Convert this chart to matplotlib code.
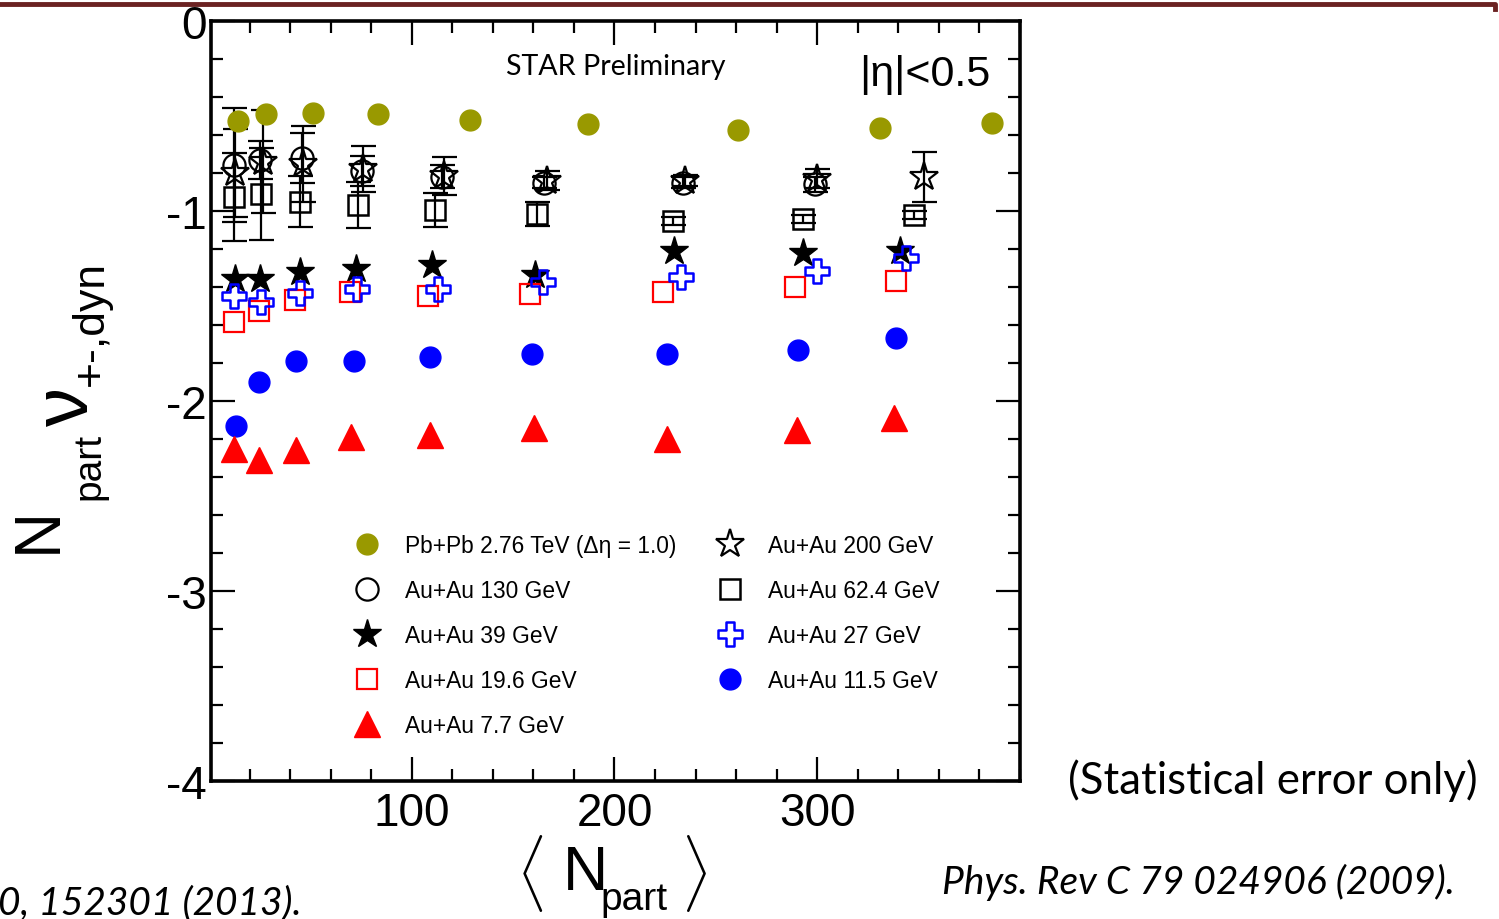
import matplotlib
matplotlib.use('Agg')
import matplotlib.pyplot as plt
from matplotlib.path import Path
from matplotlib.ticker import MultipleLocator, FixedLocator
import numpy as np

# ---------------- data ----------------
x_pbpb = [14.3, 28.2, 51.4, 83.6, 128.6, 187.0, 261.0, 331.0, 386.0]
y_pbpb = [-0.526, -0.49, -0.484, -0.49, -0.52, -0.54, -0.574, -0.563, -0.537]

x_200 = [12.9, 26.7, 46.5, 76.0, 116.0, 166.7, 235.0, 300.0, 352.6]
y_200 = [-0.80, -0.74, -0.75, -0.78, -0.815, -0.84, -0.84, -0.83, -0.82]
e_200 = [0.23, 0.27, 0.20, 0.12, 0.10, 0.05, 0.03, 0.05, 0.13]

x_130 = [12.4, 25.2, 46.0, 75.5, 115.0, 165.0, 234.0, 299.0]
y_130 = [-0.76, -0.73, -0.72, -0.79, -0.82, -0.85, -0.85, -0.86]
e_130 = [0.30, 0.10, 0.13, 0.08, 0.06, 0.03, 0.03, 0.04]

x_624 = [12.4, 25.7, 45.0, 73.7, 111.3, 161.7, 229.0, 292.8, 347.7]
y_624 = [-0.926, -0.91, -0.95, -0.968, -0.995, -1.016, -1.053, -1.042, -1.021]
e_624 = [0.23, 0.24, 0.135, 0.12, 0.09, 0.065, 0.02, 0.02, 0.02]

x_39 = [12.9, 25.2, 45.0, 72.7, 110.0, 161.0, 229.5, 293.0, 341.0]
y_39 = [-1.358, -1.358, -1.321, -1.305, -1.284, -1.337, -1.21, -1.221, -1.21]

x_27 = [12.4, 25.7, 45.0, 73.2, 113.0, 164.5, 233.0, 300.0, 344.0]
y_27 = [-1.447, -1.479, -1.432, -1.41, -1.41, -1.374, -1.347, -1.316, -1.247]

x_196 = [12.4, 24.7, 42.5, 69.7, 107.8, 158.3, 224.0, 289.0, 339.0]
y_196 = [-1.584, -1.526, -1.468, -1.426, -1.447, -1.437, -1.426, -1.40, -1.368]

x_115 = [13.4, 24.7, 43.0, 71.7, 108.8, 159.2, 226.0, 290.5, 339.0]
y_115 = [-2.13, -1.90, -1.79, -1.79, -1.77, -1.75, -1.75, -1.73, -1.67]

x_77 = [12.4, 24.7, 43.0, 70.2, 108.8, 160.2, 226.0, 290.0, 338.0]
y_77 = [-2.25, -2.31, -2.26, -2.19, -2.18, -2.14, -2.20, -2.15, -2.09]

labels = ["Pb+Pb 2.76 TeV (\u0394\u03b7 = 1.0)", "Au+Au 130 GeV", "Au+Au 39 GeV",
          "Au+Au 19.6 GeV", "Au+Au 7.7 GeV", "Au+Au 200 GeV", "Au+Au 62.4 GeV",
          "Au+Au 27 GeV", "Au+Au 11.5 GeV"]
x_ticks = [100, 200, 300]
y_ticks = [0, -1, -2, -3, -4]

# ---------------- style ----------------
plt.rcParams['font.family'] = ['Liberation Sans', 'DejaVu Sans']
plt.rcParams['axes.unicode_minus'] = False
plt.rcParams['mathtext.fontset'] = 'custom'
plt.rcParams['mathtext.rm'] = 'Liberation Sans'
plt.rcParams['mathtext.it'] = 'Liberation Sans'
plt.rcParams['mathtext.bf'] = 'Liberation Sans:bold'

W, H = 1499, 920
fig = plt.figure(figsize=(W / 100, H / 100), dpi=100)
ax = fig.add_axes([211 / W, 1 - 782 / H, (1020 - 211) / W, 760 / H])


def fx(px):
    return px / W


def fy(py):
    return 1 - py / H


a = 0.38
cross = Path([(-a, 1), (a, 1), (a, a), (1, a), (1, -a), (a, -a), (a, -1), (-a, -1),
              (-a, -a), (-1, -a), (-1, a), (-a, a), (-a, 1)], closed=True)

olive = '#999900'
ebkw = dict(fmt='none', ecolor='black', elinewidth=1.6, capsize=9, capthick=1.6)

ax.errorbar(x_624, y_624, yerr=e_624, zorder=2, **ebkw)
ax.errorbar(x_130, y_130, yerr=e_130, zorder=2, **ebkw)
ax.errorbar(x_200, y_200, yerr=e_200, zorder=2, **ebkw)

h_pb, = ax.plot(x_pbpb, y_pbpb, ls='none', marker='o', ms=15, color=olive, mec=olive, zorder=6)
h_130, = ax.plot(x_130, y_130, ls='none', marker='o', ms=16, mfc='none', mec='black', mew=1.6, zorder=3)
h_200, = ax.plot(x_200, y_200, ls='none', marker='*', ms=21, mfc='none', mec='black', mew=1.6, zorder=3)
h_624, = ax.plot(x_624, y_624, ls='none', marker='s', ms=14, mfc='none', mec='black', mew=1.8, zorder=3)
h_39, = ax.plot(x_39, y_39, ls='none', marker='*', ms=21, color='black', zorder=4)
h_27, = ax.plot(x_27, y_27, ls='none', marker=cross, ms=17, mfc='none', mec='#0000ff', mew=1.8, zorder=5)
h_196, = ax.plot(x_196, y_196, ls='none', marker='s', ms=14, mfc='none', mec='#ff0000', mew=1.6, zorder=4)
h_115, = ax.plot(x_115, y_115, ls='none', marker='o', ms=15, color='#0000ff', zorder=4)
h_77, = ax.plot(x_77, y_77, ls='none', marker='^', ms=19, color='#ff0000', zorder=4)

handles = [h_pb, h_130, h_39, h_196, h_77, h_200, h_624, h_27, h_115]
leg = ax.legend(handles, labels, ncol=2, frameon=False, fontsize=16.4, numpoints=1,
                handlelength=1.0, handletextpad=1.15, labelspacing=0.965, columnspacing=1.87,
                loc='upper left', bbox_to_anchor=(fx(356), fy(535)),
                bbox_transform=fig.transFigure, borderaxespad=0, borderpad=0)

ax.set_xlim(1, 400)
ax.set_ylim(-4, 0)
ax.xaxis.set_major_locator(FixedLocator(x_ticks))
ax.xaxis.set_minor_locator(MultipleLocator(20))
ax.yaxis.set_major_locator(FixedLocator(y_ticks))
ax.yaxis.set_minor_locator(MultipleLocator(0.2))
ax.set_yticklabels([str(t) for t in y_ticks])
ax.tick_params(which='both', direction='in', top=True, right=True, width=1.6, labelsize=33)
ax.tick_params(which='major', length=17)
ax.tick_params(which='minor', length=8.5)
ax.tick_params(axis='x', pad=7)
ax.tick_params(axis='y', pad=3)
for s in ax.spines.values():
    s.set_linewidth(2.6)

# ---- y-axis title, composed ROOT-like: N_part nu_{+-,dyn}
yt = dict(rotation=90, rotation_mode='anchor', ha='left', va='baseline')
fig.text(fx(56), fy(553), 'N', fontsize=46, **yt)
fig.text(fx(99), fy(500), 'part', fontsize=28, **yt)
fig.text(fx(88), fy(426), '\u03bd', fontsize=56, **yt)
fig.text(fx(103), fy(386), '+-,dyn', fontsize=32, **yt)

# ---- x-axis title  < N_part >
fig.text(fx(530), fy(874), r'$\langle$', fontsize=46, ha='center', va='center')
fig.text(fx(563), fy(890), 'N', fontsize=45, ha='left', va='baseline')
fig.text(fx(600), fy(910), 'part', fontsize=28, ha='left', va='baseline')
fig.text(fx(694), fy(874), r'$\rangle$', fontsize=46, ha='center', va='center')

# ---- other texts
fig.text(fx(616), fy(67), 'STAR Preliminary', fontsize=20.6, family='Lato',
         ha='center', va='center')
fig.text(fx(925), fy(75), '|\u03b7|<0.5', fontsize=31, ha='center', va='center')
fig.text(fx(1068), fy(781), '(Statistical error only)', fontsize=31.5, family='Lato',
         ha='left', va='center')
fig.text(fx(942), fy(882), 'Phys. Rev C 79 024906 (2009).', fontsize=28, family='Lato',
         style='italic', ha='left', va='center')
fig.text(fx(-2), fy(903), '0, 152301 (2013).', fontsize=28, family='Lato',
         style='italic', ha='left', va='center')

# top decorative line
fig.add_artist(plt.Line2D([0, fx(1495), fx(1495)], [fy(5), fy(5), fy(10)],
                          transform=fig.transFigure, color='#6b2222', lw=3.5))

fig.savefig('out.png', dpi=100)
